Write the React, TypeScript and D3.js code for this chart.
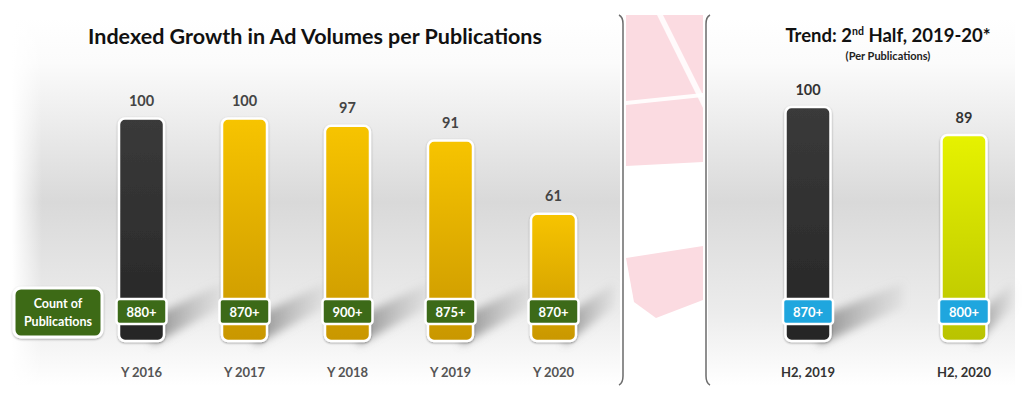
import React from 'react';
import * as d3 from 'd3';

const years = ['Y 2016', 'Y 2017', 'Y 2018', 'Y 2019', 'Y 2020'];
const indexValues = [100, 100, 97, 91, 61];
const pubCounts = ['880+', '870+', '900+', '875+', '870+'];

const halves = ['H2, 2019', 'H2, 2020'];
const halfValues = [100, 89];
const halfCounts = ['870+', '800+'];

const W = 1024;
const H = 399;
const FONT = 'Lato, "Open Sans", sans-serif';

const App = () => {
  // left panel scales
  const xL = d3.scaleBand().domain(years).range([90, 605]);
  const yL = d3.scaleLinear().domain([0, 100]).range([363, 118.5]);
  // right panel scales
  const xR = d3.scalePoint().domain(halves).range([808, 964]);
  const yR = d3.scaleLinear().domain([0, 100]).range([361.5, 107]);

  const barW = 45;
  const bottomL = 341;
  const bottomR = 341;

  const shadow = (right, bottom, len) =>
    `M${right - 12},${bottom + 4} L${right + len},${bottom - 34} L${right + len},${bottom - 58} L${right - 12},${bottom - 24} Z`;

  const bar = (cx, top, bottom, fill, key) => (
    <g key={key}>
      <rect
        x={cx - barW / 2}
        y={top}
        width={barW}
        height={bottom - top}
        rx={6}
        fill={fill}
        stroke="#fff"
        strokeWidth={2.5}
        filter="url(#barGlow)"
      />
    </g>
  );

  const countBox = (cx, label, fill, key) => (
    <g key={key}>
      <rect x={cx - 25} y={299} width={50} height={25} rx={3} fill={fill} stroke="#fff" strokeWidth={2.5} />
      <text x={cx} y={316.5} textAnchor="middle" fill="#fff" fontSize={13} fontWeight={700} fontFamily={FONT}>
        {label}
      </text>
    </g>
  );

  return (
    <svg width={W} height={H} style={{ position: 'absolute', left: 0, top: 0 }}>
      <defs>
        <linearGradient id="panelBg" x1="0" y1="0" x2="0" y2="1">
          <stop offset="0" stopColor="#ffffff" />
          <stop offset="0.12" stopColor="#fbfbfb" />
          <stop offset="0.5" stopColor="#d9d9d9" />
          <stop offset="0.8" stopColor="#ececec" />
          <stop offset="1" stopColor="#ffffff" />
        </linearGradient>
        <linearGradient id="fadeL" x1="0" y1="0" x2="1" y2="0">
          <stop offset="0" stopColor="#fff" stopOpacity="1" />
          <stop offset="1" stopColor="#fff" stopOpacity="0" />
        </linearGradient>
        <linearGradient id="dark" x1="0" y1="0" x2="0" y2="1">
          <stop offset="0" stopColor="#3a3a3a" />
          <stop offset="1" stopColor="#262626" />
        </linearGradient>
        <linearGradient id="gold" x1="0" y1="0" x2="0" y2="1">
          <stop offset="0" stopColor="#f7c400" />
          <stop offset="1" stopColor="#c99700" />
        </linearGradient>
        <linearGradient id="lime" x1="0" y1="0" x2="0" y2="1">
          <stop offset="0" stopColor="#e6f200" />
          <stop offset="1" stopColor="#b9c300" />
        </linearGradient>
        <linearGradient id="shadowFill" x1="0" y1="0" x2="1" y2="0">
          <stop offset="0" stopColor="#7a7a7a" stopOpacity="0.85" />
          <stop offset="1" stopColor="#a8a8a8" stopOpacity="0.15" />
        </linearGradient>
        <filter id="blur" x="-20%" y="-40%" width="140%" height="180%">
          <feGaussianBlur stdDeviation="4" />
        </filter>
        <filter id="barGlow" x="-30%" y="-10%" width="160%" height="120%">
          <feDropShadow dx="0" dy="1" stdDeviation="1.2" floodColor="#000" floodOpacity="0.35" />
        </filter>
      </defs>

      <rect width={W} height={H} fill="#fff" />
      {/* panel backgrounds */}
      <rect x={12} y={18} width={608} height={368} fill="url(#panelBg)" />
      <rect x={12} y={18} width={30} height={368} fill="url(#fadeL)" />
      <rect x={708} y={18} width={307} height={368} fill="url(#panelBg)" />

      {/* separator decoration */}
      <g>
        <polygon points="626,15 703,15 703,162 626,166" fill="#fbdbe1" />
        <polygon points="626,101 703,93 703,97 626,105" fill="#fff" opacity={0.9} />
        <polygon points="657,15 663,15 703,95 703,108" fill="#fff" opacity={0.85} />
        <polygon points="626,258 703,246 703,300 656,318 634,302" fill="#fbdbe1" />
        <path d="M619,15 Q623,17 623,24 L623,376 Q623,383 619,385" fill="none" stroke="#6b6b6b" strokeWidth={1.5} />
        <path d="M710,15 Q706,17 706,24 L706,376 Q706,383 710,385" fill="none" stroke="#6b6b6b" strokeWidth={1.5} />
      </g>

      {/* titles */}
      <text x={315} y={44} textAnchor="middle" fontSize={21.5} fontWeight={700} fontFamily={FONT} fill="#111">
        Indexed Growth in Ad Volumes per Publications
      </text>
      <text x={888} y={42} textAnchor="middle" fontSize={18.5} fontWeight={700} fontFamily={FONT} fill="#111">
        Trend: 2<tspan fontSize={10.5} dy={-7}>nd</tspan>
        <tspan dy={7}> Half, 2019-20*</tspan>
      </text>
      <text x={888} y={60} textAnchor="middle" fontSize={11} fontWeight={700} fontFamily={FONT} fill="#222">
        (Per Publications)
      </text>

      {/* shadows */}
      <g filter="url(#blur)">
        {years.map((d, i) => (
          <path key={d} d={shadow(xL(d) + xL.bandwidth() / 2 + barW / 2, bottomL, i === years.length - 1 ? 38 : 58)} fill="url(#shadowFill)" />
        ))}
        {halves.map((d, i) => (
          <path key={d} d={shadow(xR(d) + barW / 2, bottomR, i === 0 ? 72 : 26)} fill="url(#shadowFill)" />
        ))}
      </g>

      {/* left bars */}
      {years.map((d, i) => {
        const cx = xL(d) + xL.bandwidth() / 2;
        return (
          <g key={d}>
            {bar(cx, yL(indexValues[i]), bottomL, i === 0 ? 'url(#dark)' : 'url(#gold)', 'b')}
            <text x={cx} y={yL(indexValues[i]) - 13} textAnchor="middle" fontSize={14.5} fontWeight={700} fontFamily={FONT} fill="#444">
              {indexValues[i]}
            </text>
            {countBox(cx, pubCounts[i], '#3c6a18', 'c')}
            <text x={cx} y={377} textAnchor="middle" fontSize={13} fontWeight={700} fontFamily={FONT} fill="#555">
              {d}
            </text>
          </g>
        );
      })}

      {/* count legend box */}
      <g>
        <rect x={14} y={288} width={88} height={49} rx={7} fill="#3c6a18" stroke="#fff" strokeWidth={3} filter="url(#barGlow)" />
        <text x={58} y={308} textAnchor="middle" fontSize={12.5} fontWeight={700} fontFamily={FONT} fill="#fff">
          Count of
        </text>
        <text x={58} y={326} textAnchor="middle" fontSize={12.5} fontWeight={700} fontFamily={FONT} fill="#fff">
          Publications
        </text>
      </g>

      {/* right bars */}
      {halves.map((d, i) => {
        const cx = xR(d);
        return (
          <g key={d}>
            {bar(cx, yR(halfValues[i]), bottomR, i === 0 ? 'url(#dark)' : 'url(#lime)', 'b')}
            <text x={cx} y={yR(halfValues[i]) - 12} textAnchor="middle" fontSize={14.5} fontWeight={700} fontFamily={FONT} fill="#333">
              {halfValues[i]}
            </text>
            {countBox(cx, halfCounts[i], '#1fa6de', 'c')}
            <text x={cx} y={377} textAnchor="middle" fontSize={13} fontWeight={700} fontFamily={FONT} fill="#333">
              {d}
            </text>
          </g>
        );
      })}
    </svg>
  );
};

export default App;
